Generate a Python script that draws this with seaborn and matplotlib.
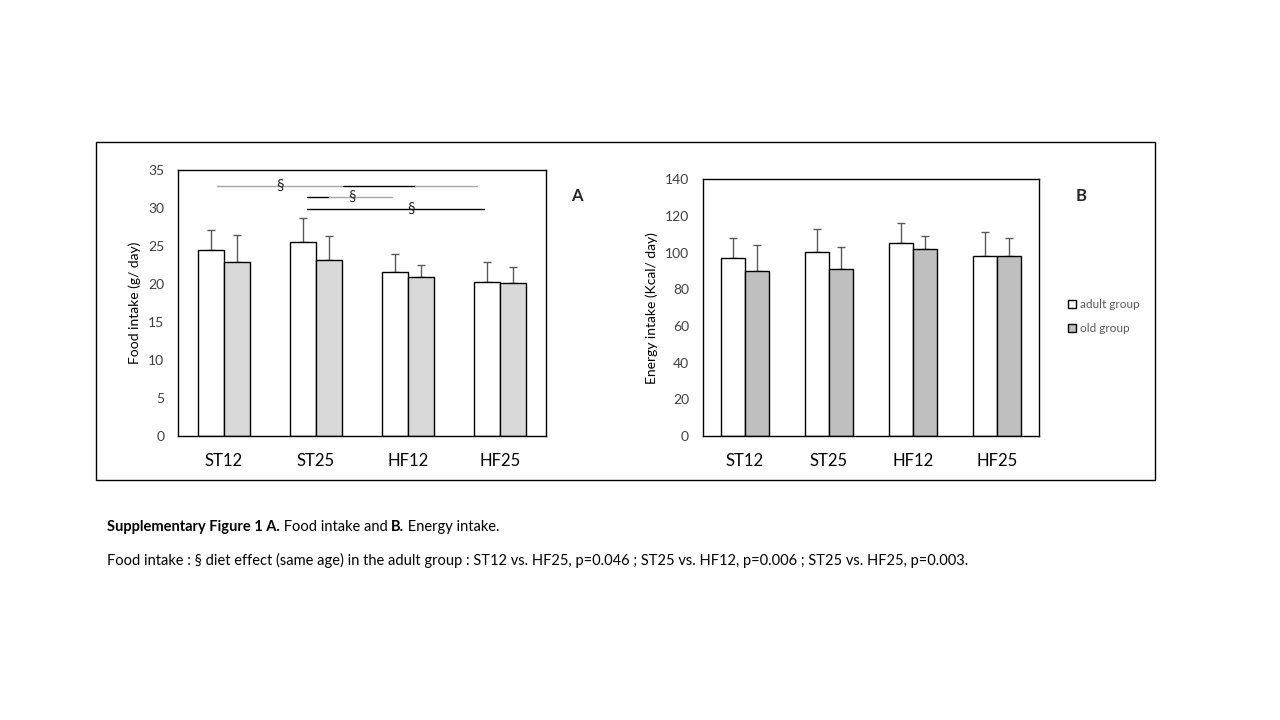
import matplotlib
matplotlib.use("Agg")
import matplotlib.pyplot as plt
from matplotlib.patches import Rectangle
import seaborn as sns
import pandas as pd
import numpy as np

# data
diets = ["ST12", "ST25", "HF12", "HF25"]
groups = ["adult group", "old group"]

food_adult = [24.5, 25.5, 21.6, 20.3]
food_old = [22.9, 23.1, 20.9, 20.1]
food_adult_sd = [2.6, 3.2, 2.4, 2.6]
food_old_sd = [3.5, 3.2, 1.6, 2.1]

energy_adult = [97.0, 100.2, 105.1, 98.0]
energy_old = [89.8, 90.9, 101.8, 98.0]
energy_adult_sd = [10.9, 12.5, 10.9, 13.1]
energy_old_sd = [14.2, 12.0, 7.1, 9.8]

# significance lines on panel A: (x start, x end, y, colour) in category units
sig_segments = [
    (-0.08, 1.29, 32.95, "#a6a6a6"),
    (1.29, 2.08, 32.95, "black"),
    (2.08, 2.75, 32.95, "#a6a6a6"),
    (0.90, 1.14, 31.5, "black"),
    (1.14, 1.83, 31.5, "#a6a6a6"),
    (0.90, 2.83, 29.85, "black"),
]
sig_marks = [(0.61, 32.95), (1.39, 31.5), (2.03, 29.85)]

FONT = ["Lato", "DejaVu Sans"]
TXT = "#404040"

sns.set_style("white")
plt.rcParams["font.family"] = FONT


def make_df(adult, old):
    return pd.DataFrame({
        "diet": diets * 2,
        "group": [groups[0]] * 4 + [groups[1]] * 4,
        "value": adult + old,
    })


def draw_panel(ax, df, sds, old_color, ymax, ystep, ylabel, legend):
    sns.barplot(data=df, x="diet", y="value", hue="group", order=diets,
                hue_order=groups, palette=["white", old_color], width=0.566,
                edgecolor="black", linewidth=1.0, errorbar=None,
                legend=legend, ax=ax, zorder=2)
    # upper-only error bars placed on the drawn bars, one container per group
    for cont, sd in zip(ax.containers, sds):
        for p, e in zip(cont.patches, sd):
            xc = p.get_x() + p.get_width() / 2
            h = p.get_height()
            ax.errorbar(xc, h, yerr=[[0], [e]], fmt="none",
                        ecolor="#595959", elinewidth=1.0, capsize=2.6,
                        capthick=1.0, zorder=1)
    ax.set_xlim(-0.5, 3.5)
    ax.set_ylim(0, ymax)
    ax.set_yticks(np.arange(0, ymax + 1, ystep))
    ax.set_xlabel("")
    ax.set_ylabel(ylabel, fontsize=10, color="black", labelpad=5)
    ax.tick_params(axis="y", length=0, pad=10, labelsize=10, labelcolor=TXT)
    ax.tick_params(axis="x", length=0, pad=12, labelsize=12, labelcolor="black")
    for s in ax.spines.values():
        s.set_visible(True)
        s.set_color("black")
        s.set_linewidth(1.0)


fig = plt.figure(figsize=(12.8, 7.2), dpi=100)
fig.patch.set_facecolor("white")

# outer frame
fig.add_artist(Rectangle((0.075, 0.3333), 0.8273, 0.4694, transform=fig.transFigure,
                         fill=False, edgecolor="black", linewidth=1.0))

axA = fig.add_axes([0.1391, 0.3944, 0.2875, 0.3694])
axB = fig.add_axes([0.5492, 0.3944, 0.2625, 0.3565])

dfA = make_df(food_adult, food_old)
dfB = make_df(energy_adult, energy_old)

draw_panel(axA, dfA, [food_adult_sd, food_old_sd], "#d9d9d9", 35, 5,
           "Food intake (g/ day)", False)
draw_panel(axB, dfB, [energy_adult_sd, energy_old_sd], "#bfbfbf", 140, 20,
           "Energy intake (Kcal/ day)", True)

for x0, x1, y, c in sig_segments:
    axA.plot([x0, x1], [y, y], color=c, linewidth=1.0, zorder=3)
for x, y in sig_marks:
    axA.text(x, y, "§", ha="center", va="center", fontsize=11, color="#262626", zorder=4)

# legend for panel B
handles, labels = axB.get_legend_handles_labels()
axB.legend(handles, labels, loc="center left", bbox_to_anchor=(0.826, 0.560),
           bbox_transform=fig.transFigure, frameon=False, fontsize=8.5,
           handlelength=0.7, handleheight=0.7, handletextpad=0.3,
           labelspacing=1.1, labelcolor="#595959")

fig.text(577 / 1280, 1 - 196 / 720, "A", ha="center", va="center",
         fontsize=12, fontweight="bold")
fig.text(1081 / 1280, 1 - 196 / 720, "B", ha="center", va="center",
         fontsize=12, fontweight="bold")


# caption with mixed weights
def rich_line(x_px, y_px, pieces, size):
    fig.canvas.draw()
    r = fig.canvas.get_renderer()
    x = x_px
    for s, w in pieces:
        t = fig.text(x / 1280, 1 - y_px / 720, s, fontsize=size, fontweight=w,
                     ha="left", va="center", color="black")
        x += t.get_window_extent(r).width


rich_line(107, 527, [("Supplementary Figure 1 A.", "bold"),
                     (" Food intake and ", "normal"),
                     ("B.", "bold"),
                     (" Energy intake.", "normal")], 10.5)
rich_line(107, 560, [("Food intake : § diet effect (same age) in the adult group : "
                      "ST12 vs. HF25, p=0.046 ; ST25 vs. HF12, p=0.006 ; "
                      "ST25 vs. HF25, p=0.003.", "normal")], 10.5)

fig.savefig("out.png", dpi=100, facecolor="white")
